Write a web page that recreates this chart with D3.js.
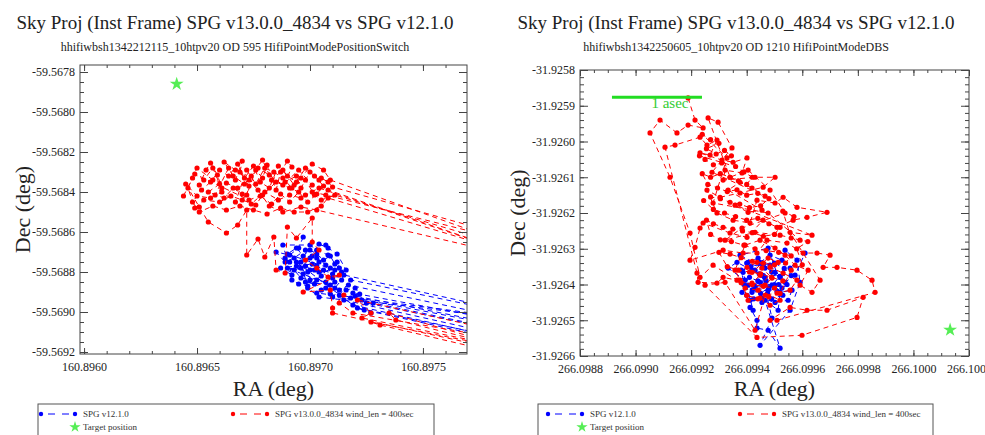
<!DOCTYPE html>
<html><head><meta charset="utf-8">
<script src="https://cdn.jsdelivr.net/npm/d3@7"></script>
<style>
body{margin:0;background:#fff;overflow:hidden}
svg{display:block}
text{font-family:"Liberation Serif","Times New Roman",serif}
</style>
</head><body>
<svg id="c" width="985" height="435"></svg>
<script>
// ---------------- data ----------------
const titleText = "Sky Proj (Inst Frame) SPG v13.0.0_4834 vs SPG v12.1.0";
const subtitles = ["hhifiwbsh1342212115_10htpv20 OD 595 HifiPointModePositionSwitch",
                   "hhifiwbsh1342250605_10htpv20 OD 1210 HifiPointModeDBS"];
const legendLabels = ["SPG v12.1.0", "SPG v13.0.0_4834 wind_len = 400sec", "Target position"];
const xTitle = "RA (deg)", yTitle = "Dec (deg)";

const leftXTicks = [160.8960, 160.8965, 160.8970, 160.8975];
const leftYTicks = [-59.5678, -59.5680, -59.5682, -59.5684, -59.5686, -59.5688, -59.5690, -59.5692];
const rightXTicks = [266.0988, 266.0990, 266.0992, 266.0994, 266.0996, 266.0998, 266.1000, 266.1002];
const rightYTicks = [-31.9258, -31.9259, -31.9260, -31.9261, -31.9262, -31.9263, -31.9264, -31.9265, -31.9266];

const leftTarget = [160.89641, -59.56786];
const rightTarget = [266.100132, -31.926527];
const scaleBar = [266.098915, 266.099239, -31.925876]; // RA start, RA end, Dec
const scaleBarLabel = "1 asec";

// SPG v12.1.0 (blue), left observation
const leftBlue = [
[160.89697,-59.568625],[160.89695,-59.56868],[160.89691,-59.568715],[160.89685,-59.56870],[160.89689,-59.56875],
[160.89693,-59.56873],[160.89698,-59.56869],[160.89701,-59.56872],[160.89704,-59.56875],[160.89702,-59.56879],
[160.89698,-59.56877],[160.89693,-59.56879],[160.89696,-59.56883],[160.89700,-59.56884],[160.89705,-59.56882],
[160.89709,-59.56878],[160.89712,-59.56875],[160.89714,-59.56880],[160.89711,-59.56885],[160.89707,-59.56888],
[160.89703,-59.568905],[160.89850,-59.56912],[160.89710,-59.568925],[160.89713,-59.56889],[160.89717,-59.568865],
[160.89850,-59.56918],[160.89719,-59.568905],[160.89723,-59.56894],[160.89725,-59.568955],[160.89850,-59.56924],
[160.89728,-59.568955],[160.89727,-59.569005],[160.89721,-59.56898],[160.89850,-59.56928],[160.89715,-59.56894],
[160.89704,-59.568925],[160.89699,-59.56888],[160.89696,-59.56875],[160.89700,-59.568665],[160.89703,-59.56869],
[160.89708,-59.568715],[160.89707,-59.568665],[160.89688,-59.568665],[160.89692,-59.568815],[160.89687,-59.56878],
[160.89701,-59.56876],[160.89710,-59.56883],[160.89715,-59.568815],[160.89850,-59.56915],[160.89718,-59.56884],
[160.89713,-59.568915],[160.89850,-59.56921],[160.89720,-59.56892],[160.89724,-59.56899],[160.89850,-59.56930],
[160.89719,-59.568965],[160.89694,-59.56875],[160.89699,-59.56880],[160.89703,-59.56873],[160.89707,-59.568765],
[160.89702,-59.56886],[160.89698,-59.56885],[160.89709,-59.568865],[160.89690,-59.56878],[160.89704,-59.56880],
[160.89711,-59.56879],
[160.89690,-59.56871],[160.89694,-59.56868],[160.89697,-59.56872],[160.89700,-59.56869],[160.89703,-59.56871],
[160.89706,-59.56874],[160.89709,-59.56872],[160.89711,-59.56876],[160.89713,-59.56878],[160.89710,-59.56881],
[160.89706,-59.56879],[160.89703,-59.56877],[160.89700,-59.56879],[160.89697,-59.56881],[160.89694,-59.56877],
[160.89691,-59.56875],[160.89689,-59.56873],[160.89692,-59.56884],[160.89695,-59.56886],[160.89699,-59.56887],
[160.89703,-59.56884],[160.89707,-59.56885],[160.89711,-59.56888],[160.89714,-59.56884],[160.89716,-59.56879],
[160.89712,-59.56871],[160.89708,-59.56868],[160.89704,-59.56866],[160.89700,-59.56873],[160.89696,-59.56878],
[160.89705,-59.56889],[160.89709,-59.56891],[160.89716,-59.56889],[160.89720,-59.56888],[160.89722,-59.56891],
[160.89718,-59.56893]
];
// SPG v13.0.0_4834 (red), left observation
const leftRed = [
[160.89644,-59.56842],[160.89648,-59.56833],[160.89651,-59.568365],[160.89654,-59.56829],[160.89656,-59.568255],
[160.89659,-59.568315],[160.89661,-59.56838],[160.89658,-59.568415],[160.89664,-59.56828],[160.89667,-59.56834],
[160.89670,-59.568245],[160.89669,-59.56830],[160.89673,-59.56837],[160.89672,-59.568415],[160.89676,-59.56829],
[160.89679,-59.56833],[160.89681,-59.568265],[160.89685,-59.56839],[160.89687,-59.56830],[160.89690,-59.568245],
[160.89692,-59.568275],[160.89689,-59.56835],[160.89694,-59.56832],[160.89696,-59.56838],[160.89700,-59.56830],
[160.89704,-59.56834],[160.89705,-59.56833],[160.89708,-59.56835],[160.89710,-59.568375],[160.89850,-59.56882],
[160.89707,-59.568415],[160.89701,-59.56840],[160.89696,-59.56843],[160.89691,-59.568415],[160.89686,-59.56844],
[160.89680,-59.56840],[160.89676,-59.568465],[160.89670,-59.56844],[160.89665,-59.56842],[160.89660,-59.56845],
[160.89653,-59.56844],[160.89649,-59.56848],[160.89646,-59.56838],[160.89650,-59.56828],[160.89657,-59.56834],
[160.89663,-59.568355],[160.89668,-59.56838],[160.89674,-59.56832],[160.89679,-59.56824],[160.89683,-59.56834],
[160.89688,-59.56829],[160.89693,-59.568365],[160.89698,-59.56834],[160.89702,-59.568415],[160.89705,-59.56844],
[160.89711,-59.568415],[160.89850,-59.56888],[160.89703,-59.56849],[160.89696,-59.568475],[160.89688,-59.56850],
[160.89682,-59.56847],[160.89677,-59.56839],[160.89673,-59.56834],[160.89667,-59.56829],[160.89662,-59.56825],
[160.89666,-59.56832],[160.89671,-59.56836],[160.89677,-59.56828],[160.89682,-59.568315],[160.89688,-59.568365],
[160.89695,-59.56829],[160.89701,-59.568365],[160.89708,-59.56839],[160.89850,-59.56894],[160.89704,-59.56838],
[160.89698,-59.568415],[160.89691,-59.56838],[160.89685,-59.56835],[160.89679,-59.568415],[160.89673,-59.56844],
[160.89649,-59.56831],[160.89653,-59.56834],[160.89657,-59.56828],[160.89660,-59.56836],[160.89655,-59.56840],
[160.89662,-59.56843],[160.89666,-59.56838],[160.89670,-59.56841],[160.89674,-59.56846],[160.89678,-59.56842],
[160.89683,-59.56846],[160.89687,-59.56841],[160.89691,-59.56845],[160.89695,-59.56840],[160.89699,-59.56845],
[160.89703,-59.56841],[160.89706,-59.56837],[160.89702,-59.56832],[160.89698,-59.56828],[160.89694,-59.56835],
[160.89690,-59.56832],[160.89686,-59.56827],[160.89682,-59.56838],[160.89678,-59.56835],[160.89675,-59.56827],
[160.89671,-59.56833],[160.89668,-59.56826],[160.89664,-59.56832],[160.89660,-59.56829],[160.89656,-59.56835],
[160.89652,-59.56839],[160.89648,-59.56845],[160.89651,-59.56850],[160.89657,-59.56847],[160.89663,-59.56849],
[160.89669,-59.56847],[160.89675,-59.56849],[160.89681,-59.56851],[160.89687,-59.56848],[160.89693,-59.56850],
[160.89699,-59.56850],[160.89705,-59.56847],[160.89708,-59.56843],[160.89850,-59.56891],[160.89709,-59.56834],
[160.89706,-59.56829],[160.89701,-59.56826],[160.89696,-59.56833],[160.89692,-59.56838],[160.89688,-59.56833],
[160.89684,-59.56830],[160.89680,-59.56828],[160.89676,-59.56836],[160.89672,-59.56829],[160.89667,-59.56845],
[160.89661,-59.56840],[160.89656,-59.56843],[160.89650,-59.56842],[160.89645,-59.56836],
[160.89651,-59.568475],[160.89655,-59.56855],[160.89663,-59.568605],[160.89668,-59.568565],[160.89672,-59.56849],
[160.89672,-59.568715],[160.89677,-59.568635],[160.89680,-59.568725],[160.89684,-59.568625],[160.89685,-59.56879],
[160.89689,-59.568805],[160.89690,-59.568575],[160.89694,-59.56863],[160.89701,-59.56853],[160.89701,-59.56865],
[160.89704,-59.56869],[160.89698,-59.56874],[160.89703,-59.56878],[160.89708,-59.568825],[160.89713,-59.568815],
[160.89697,-59.56890],[160.89709,-59.56889],[160.89710,-59.56898],[160.89715,-59.568915],[160.89713,-59.568955],
[160.89719,-59.569005],[160.89850,-59.56926],[160.89721,-59.56894],[160.89727,-59.569005],[160.89723,-59.56903],
[160.89850,-59.56932],[160.89727,-59.56905],[160.89731,-59.569065],[160.89850,-59.56938],[160.89735,-59.569005],
[160.89738,-59.56904],[160.89850,-59.56935],[160.89710,-59.569005]
];
// SPG v12.1.0 (blue), right observation
const rightBlue = [
[266.099448,-31.926338],[266.099484,-31.926318],[266.099527,-31.926332],[266.099556,-31.926354],[266.099610,-31.926312],
[266.099574,-31.926374],[266.099538,-31.926394],[266.099502,-31.926366],[266.099466,-31.926382],[266.099419,-31.926360],
[266.099365,-31.926338],[266.099333,-31.926354],[266.099394,-31.926388],[266.099430,-31.926410],[266.099477,-31.926416],
[266.099520,-31.926422],[266.099563,-31.926416],[266.099549,-31.926444],[266.099502,-31.926450],[266.099455,-31.926438],
[266.099412,-31.926444],[266.099383,-31.926422],[266.099405,-31.926402],[266.099448,-31.926394],[266.099491,-31.926402],
[266.099520,-31.926377],[266.099484,-31.926346],[266.099441,-31.926326],[266.099405,-31.926338],[266.099387,-31.926366],
[266.099423,-31.926472],[266.099412,-31.926464],[266.099437,-31.926500],[266.099437,-31.926522],[266.099477,-31.926528],
[266.099520,-31.926578],[266.099466,-31.926444],[266.099513,-31.926472],[266.099538,-31.926304],[266.099581,-31.926332],
[266.099592,-31.926394],[266.099556,-31.926472],[266.099448,-31.926570],[266.099491,-31.926494],[266.099455,-31.926374],
[266.099419,-31.926422],[266.099527,-31.926410],[266.099477,-31.926298],[266.099376,-31.926318],[266.099466,-31.926354],
[266.099400,-31.926340],[266.099430,-31.926360],[266.099460,-31.926345],[266.099490,-31.926365],[266.099520,-31.926380],
[266.099545,-31.926400],[266.099510,-31.926420],[266.099480,-31.926410],[266.099450,-31.926425],[266.099420,-31.926415],
[266.099390,-31.926400],[266.099410,-31.926380],[266.099440,-31.926390],[266.099470,-31.926390],[266.099500,-31.926400],
[266.099530,-31.926430],[266.099490,-31.926440],[266.099455,-31.926450],[266.099425,-31.926440],[266.099400,-31.926430],
[266.099380,-31.926360],[266.099415,-31.926350],[266.099500,-31.926340],[266.099535,-31.926355],[266.099560,-31.926375],
[266.099460,-31.926375],[266.099430,-31.926405],[266.099515,-31.926400],[266.099475,-31.926425],[266.099445,-31.926370]
];
// SPG v13.0.0_4834 (red), right observation
const rightRed = [
[266.099189,-31.925878],[266.099214,-31.925940],[266.099243,-31.925962],[266.099189,-31.925954],[266.099149,-31.925976],
[266.099088,-31.925940],[266.099052,-31.925976],[266.099124,-31.926100],[266.099196,-31.926256],[266.099232,-31.926380],
[266.099279,-31.926346],[266.099365,-31.926388],[266.099315,-31.926380],[266.099293,-31.926396],[266.099225,-31.926394],
[266.099221,-31.926368],[266.099106,-31.926016],[266.099142,-31.926010],[266.099232,-31.925988],[266.099257,-31.926010],
[266.099293,-31.925996],[266.099268,-31.926038],[266.099232,-31.926032],[266.099311,-31.926052],[266.099351,-31.926058],
[266.099401,-31.926046],[266.099383,-31.926088],[266.099322,-31.926080],[266.099315,-31.926108],[266.099430,-31.926100],
[266.099502,-31.926100],[266.099459,-31.926128],[266.099376,-31.926144],[266.099304,-31.926156],[266.099257,-31.926136],
[266.099293,-31.926200],[266.099351,-31.926220],[266.099412,-31.926228],[266.099437,-31.926164],[266.099502,-31.926172],
[266.099531,-31.926156],[266.099581,-31.926184],[266.099689,-31.926198],[266.099617,-31.926212],[266.099567,-31.926220],
[266.099509,-31.926240],[266.099459,-31.926220],[266.099401,-31.926268],[266.099340,-31.926256],[266.099243,-31.926228],
[266.099232,-31.926242],[266.099214,-31.926296],[266.099196,-31.926332],[266.099315,-31.926304],[266.099387,-31.926312],
[266.099437,-31.926312],[266.099473,-31.926276],[266.099545,-31.926284],[266.099603,-31.926312],[266.099653,-31.926312],
[266.099700,-31.926318],[266.099675,-31.926352],[266.099725,-31.926352],[266.099797,-31.926360],[266.099851,-31.926388],
[266.099862,-31.926422],[266.099509,-31.926500],[266.099484,-31.926500],[266.099556,-31.926464],[266.099617,-31.926472],
[266.099689,-31.926472],[266.099819,-31.926436],[266.099797,-31.926492],[266.099599,-31.926542],[266.099437,-31.926548],
[266.099250,-31.926402],[266.099322,-31.926394],[266.099430,-31.926528],[266.099466,-31.926430],[266.099509,-31.926424],
[266.099556,-31.926416],[266.099581,-31.926388],[266.099531,-31.926368],[266.099484,-31.926352],[266.099437,-31.926338],
[266.099401,-31.926352],[266.099448,-31.926374],[266.099419,-31.926396],[266.099466,-31.926402],[266.099491,-31.926382],
[266.099455,-31.926354],[266.099419,-31.926366],[266.099477,-31.926326],[266.099513,-31.926338],[266.099441,-31.926416],
[266.099394,-31.926410],[266.099405,-31.926444],[266.099448,-31.926438],[266.099484,-31.926458],[266.099520,-31.926444],
[266.099376,-31.926388],[266.099358,-31.926360],[266.099394,-31.926290],[266.099448,-31.926276],[266.099502,-31.926298],
[266.099538,-31.926318],[266.099574,-31.926346],[266.099621,-31.926360],[266.099592,-31.926402],[266.099635,-31.926422],
[266.099664,-31.926388],[266.099556,-31.926254],[266.099635,-31.926262],[266.099358,-31.926178],[266.099405,-31.926198],
[266.099455,-31.926192],[266.099333,-31.926136],[266.099376,-31.926114],[266.099419,-31.926130],[266.099466,-31.926153],
[266.099275,-31.926086],[266.099347,-31.926018],[266.099297,-31.925946],[266.099261,-31.925934],[266.099340,-31.926100],
[266.099405,-31.926080],[266.099484,-31.926136],[266.099538,-31.926200],[266.099383,-31.926242],[266.099322,-31.926276],
[266.099430,-31.926254],[266.099520,-31.926262],[266.099592,-31.926276],[266.099477,-31.926200],[266.099279,-31.926172],
[266.099329,-31.926046],
[266.099240,-31.925980],[266.099270,-31.925995],[266.099300,-31.926005],[266.099255,-31.926020],[266.099290,-31.926035],
[266.099320,-31.926025],[266.099345,-31.926040],[266.099310,-31.926060],[266.099280,-31.926065],[266.099250,-31.926050],
[266.099230,-31.926040],[266.099360,-31.926070],[266.099390,-31.926085],[266.099420,-31.926100],[266.099400,-31.926120],
[266.099370,-31.926110],[266.099340,-31.926100],[266.099305,-31.926090],[266.099270,-31.926100],[266.099240,-31.926090],
[266.099260,-31.926120],[266.099295,-31.926130],[266.099330,-31.926140],[266.099365,-31.926135],[266.099400,-31.926150],
[266.099440,-31.926145],[266.099480,-31.926160],[266.099450,-31.926180],[266.099410,-31.926185],[266.099375,-31.926175],
[266.099340,-31.926170],[266.099305,-31.926160],[266.099270,-31.926155],[266.099245,-31.926165],[266.099280,-31.926190],
[266.099320,-31.926200],[266.099360,-31.926210],[266.099400,-31.926220],[266.099440,-31.926215],[266.099480,-31.926230],
[266.099520,-31.926240],[266.099500,-31.926260],[266.099460,-31.926265],[266.099420,-31.926255],[266.099385,-31.926250],
[266.099350,-31.926245],[266.099315,-31.926240],[266.099280,-31.926230],[266.099255,-31.926220],[266.099270,-31.926260],
[266.099305,-31.926275],[266.099345,-31.926280],[266.099390,-31.926290],[266.099430,-31.926300],[266.099470,-31.926305],
[266.099515,-31.926310],[266.099560,-31.926320],[266.099540,-31.926340],[266.099500,-31.926345],[266.099460,-31.926340],
[266.099420,-31.926335],[266.099380,-31.926325],[266.099340,-31.926315],[266.099300,-31.926310],[266.099330,-31.926350],
[266.099370,-31.926360],[266.099410,-31.926365],[266.099450,-31.926370],[266.099490,-31.926380],[266.099530,-31.926390],
[266.099500,-31.926410],[266.099460,-31.926405],[266.099420,-31.926400],[266.099380,-31.926395],[266.099400,-31.926430],
[266.099440,-31.926440],[266.099480,-31.926435],[266.099520,-31.926425],[266.099560,-31.926360],[266.099600,-31.926345],
[266.099580,-31.926300],[266.099620,-31.926280],[266.099560,-31.926270],[266.099530,-31.926195],[266.099570,-31.926210]
];

// ---------------- drawing ----------------
const BLUE = "#0000ff", RED = "#ff0000", GREEN = "#55ee55", AXIS = "#444";
const svg = d3.select("#c");

function minorValues(dom, step) {
  const lo = Math.min(dom[0], dom[1]), hi = Math.max(dom[0], dom[1]);
  const a = Math.ceil(lo / step - 1e-6), b = Math.floor(hi / step + 1e-6);
  return d3.range(a, b + 1).map(i => +(i * step).toFixed(8));
}

function drawPanel(o) {
  const x = d3.scaleLinear().domain(o.xDom).range([o.left, o.right]);
  const y = d3.scaleLinear().domain(o.yDom).range([o.bottom, o.top]);
  const g = svg.append("g");
  const clipId = "clip" + o.id;
  svg.append("clipPath").attr("id", clipId).append("rect")
    .attr("x", o.left).attr("y", o.top).attr("width", o.right - o.left).attr("height", o.bottom - o.top);

  // titles
  g.append("text").attr("x", o.titleX).attr("y", 29).attr("text-anchor", "middle")
    .attr("font-size", 19).attr("fill", "#222").text(titleText);
  g.append("text").attr("x", o.titleX).attr("y", 51).attr("text-anchor", "middle")
    .attr("font-size", 12).attr("fill", "#222").text(o.subtitle);

  // series
  const line = d3.line().x(d => x(d[0])).y(d => y(d[1]));
  const sg = g.append("g").attr("clip-path", `url(#${clipId})`);
  o.series.forEach(s => {
    sg.append("path").attr("d", line(s.data)).attr("fill", "none")
      .attr("stroke", s.color).attr("stroke-width", 1).attr("stroke-dasharray", "5,4");
    sg.append("g").selectAll("circle").data(s.data).join("circle")
      .attr("cx", d => x(d[0])).attr("cy", d => y(d[1])).attr("r", 2.6).attr("fill", s.color);
  });
  sg.append("path").attr("d", d3.symbol(d3.symbolStar, 60)())
    .attr("transform", `translate(${x(o.target[0])},${y(o.target[1])})`).attr("fill", GREEN);

  if (o.bar) {
    const y0 = y(o.bar[2]);
    g.append("line").attr("x1", x(o.bar[0])).attr("x2", x(o.bar[1])).attr("y1", y0).attr("y2", y0)
      .attr("stroke", "#22dd22").attr("stroke-width", 3);
    g.append("text").attr("x", (x(o.bar[0]) + x(o.bar[1])) / 2 + 13).attr("y", y0 + 11)
      .attr("text-anchor", "middle").attr("font-size", 15).attr("fill", "#33cc33").text(scaleBarLabel);
  }

  // axes (ticks inward)
  const fmt = d => d.toFixed(4);
  const xMin = minorValues(o.xDom, o.xMinor), yMin = minorValues(o.yDom, o.yMinor);
  const axes = g.append("g");
  const add = (axis, tr) => axes.append("g").attr("transform", tr).call(axis);
  add(d3.axisBottom(x).tickValues(o.xTicks).tickSize(-6).tickPadding(o.xPad).tickFormat(fmt), `translate(0,${o.bottom})`);
  add(d3.axisBottom(x).tickValues(xMin).tickSize(-3).tickFormat(""), `translate(0,${o.bottom})`);
  add(d3.axisTop(x).tickValues(o.xTicks).tickSize(-6).tickFormat(""), `translate(0,${o.top})`);
  add(d3.axisTop(x).tickValues(xMin).tickSize(-3).tickFormat(""), `translate(0,${o.top})`);
  add(d3.axisLeft(y).tickValues(o.yTicks).tickSize(-8).tickPadding(5).tickFormat(fmt), `translate(${o.left},0)`);
  add(d3.axisLeft(y).tickValues(yMin).tickSize(-4).tickFormat(""), `translate(${o.left},0)`);
  add(d3.axisRight(y).tickValues(o.yTicks).tickSize(-8).tickFormat(""), `translate(${o.right},0)`);
  add(d3.axisRight(y).tickValues(yMin).tickSize(-4).tickFormat(""), `translate(${o.right},0)`);
  axes.selectAll(".domain").remove();
  axes.selectAll("line").attr("stroke", AXIS);
  axes.selectAll("text").attr("font-size", 12).attr("fill", "#222")
    .attr("font-family", '"Liberation Serif","Times New Roman",serif');

  g.append("rect").attr("x", o.left).attr("y", o.top).attr("width", o.right - o.left)
    .attr("height", o.bottom - o.top).attr("fill", "none").attr("stroke", AXIS).attr("stroke-width", 1);

  // axis titles
  g.append("text").attr("x", (o.left + o.right) / 2).attr("y", 396).attr("text-anchor", "middle")
    .attr("font-size", 22).attr("fill", "#222").text(xTitle);
  g.append("text").attr("transform", `translate(${o.yTitleX},${(o.top + o.bottom) / 2}) rotate(-90)`)
    .attr("text-anchor", "middle").attr("font-size", 22).attr("fill", "#222").text(yTitle);

  // legend
  const L = o.legend;
  g.append("rect").attr("x", L.x0).attr("y", 404).attr("width", L.x1 - L.x0).attr("height", 40)
    .attr("fill", "none").attr("stroke", "#555").attr("stroke-width", 1);
  const entry = (xa, color, label, yy) => {
    g.append("line").attr("x1", xa).attr("x2", xa + 34).attr("y1", yy).attr("y2", yy)
      .attr("stroke", color).attr("stroke-width", 1).attr("stroke-dasharray", "0,7,7,7,7,7");
    [xa, xa + 34].forEach(cx => g.append("circle").attr("cx", cx).attr("cy", yy).attr("r", 2.2).attr("fill", color));
    g.append("text").attr("x", xa + 42).attr("y", yy + 3).attr("font-size", 9).attr("fill", "#333").text(label);
  };
  entry(L.b, BLUE, legendLabels[0], 414);
  entry(L.r, RED, legendLabels[1], 414);
  g.append("path").attr("d", d3.symbol(d3.symbolStar, 40)())
    .attr("transform", `translate(${L.b + 34},427)`).attr("fill", GREEN);
  g.append("text").attr("x", L.b + 42).attr("y", 430).attr("font-size", 9).attr("fill", "#333").text(legendLabels[2]);
}

drawPanel({
  id: "L", left: 80, right: 467, top: 65, bottom: 354,
  xDom: [160.895982, 160.897695], yDom: [-59.56921, -59.567765],
  xTicks: leftXTicks, yTicks: leftYTicks, xMinor: 0.0001, yMinor: 0.00005, xPad: 8,
  titleX: 235, subtitle: subtitles[0], yTitleX: 30,
  series: [{data: leftBlue, color: BLUE}, {data: leftRed, color: RED}],
  target: leftTarget, bar: null,
  legend: {x0: 38, x1: 434, b: 41, r: 233}
});
drawPanel({
  id: "R", left: 580, right: 969, top: 70, bottom: 356,
  xDom: [266.0988, 266.1002], yDom: [-31.9266, -31.9258],
  xTicks: rightXTicks, yTicks: rightYTicks, xMinor: 0.00005, yMinor: 0.00002, xPad: 8,
  titleX: 736, subtitle: subtitles[1], yTitleX: 525,
  series: [{data: rightBlue, color: BLUE}, {data: rightRed, color: RED}],
  target: rightTarget, bar: scaleBar,
  legend: {x0: 538, x1: 933, b: 548, r: 740}
});
</script>
</body></html>
